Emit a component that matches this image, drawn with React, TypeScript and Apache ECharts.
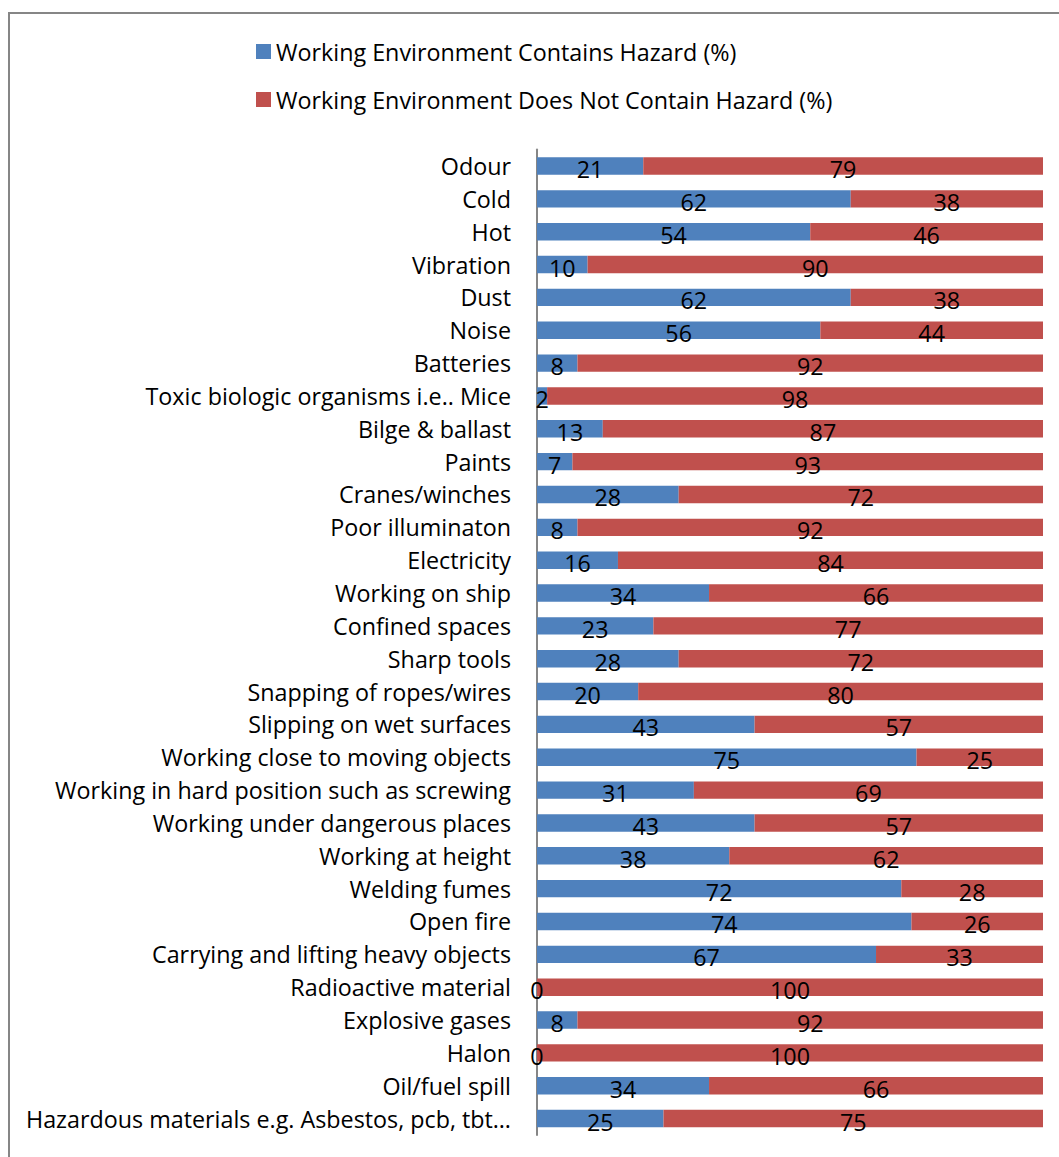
import React, { useEffect, useRef } from "react";
import * as echarts from "echarts";

const categories = [
  "Odour",
  "Cold",
  "Hot",
  "Vibration",
  "Dust",
  "Noise",
  "Batteries",
  "Toxic biologic organisms i.e.. Mice",
  "Bilge & ballast",
  "Paints",
  "Cranes/winches",
  "Poor illuminaton",
  "Electricity",
  "Working on ship",
  "Confined spaces",
  "Sharp tools",
  "Snapping of ropes/wires",
  "Slipping on wet surfaces",
  "Working close to moving objects",
  "Working in hard position such as screwing",
  "Working under dangerous places",
  "Working at height",
  "Welding fumes",
  "Open fire",
  "Carrying and lifting heavy objects",
  "Radioactive material",
  "Explosive gases",
  "Halon",
  "Oil/fuel spill",
  "Hazardous materials e.g. Asbestos, pcb, tbt…",
];

const containsHazard = [
  21, 62, 54, 10, 62, 56, 8, 2, 13, 7, 28, 8, 16, 34, 23, 28, 20, 43, 75, 31, 43, 38, 72, 74, 67, 0, 8, 0, 34, 25,
];

const noHazard = [
  79, 38, 46, 90, 38, 44, 92, 98, 87, 93, 72, 92, 84, 66, 77, 72, 80, 57, 25, 69, 57, 62, 28, 26, 33, 100, 92, 100, 66, 75,
];

const seriesNames = [
  "Working Environment Contains Hazard (%)",
  "Working Environment Does Not Contain Hazard (%)",
];

const FONT = "Open Sans";
const FS = 23.3;

export default function App() {
  const ref = useRef<HTMLDivElement>(null);
  useEffect(() => {
    if (!ref.current) return;
    const chart = echarts.init(ref.current, undefined, { renderer: "svg" });
    const labelCfg = {
      show: true,
      position: "inside",
      color: "#000",
      fontSize: FS,
      fontFamily: FONT,
      offset: [0, 3],
    };
    chart.setOption({
      animation: false,
      backgroundColor: "#fff",
      graphic: [
        {
          type: "rect",
          shape: { x: 9, y: 13, width: 1100, height: 1200 },
          style: { fill: "none", stroke: "#868686", lineWidth: 2 },
          silent: true,
        },
      ],
      legend: {
        orient: "vertical",
        left: 256,
        top: 40,
        padding: 0,
        itemWidth: 15,
        itemHeight: 15,
        itemGap: 25,
        icon: "rect",
        textStyle: { fontSize: FS, fontFamily: FONT, color: "#000" },
        data: seriesNames,
      },
      grid: { left: 537, right: 16, top: 149.6, bottom: 22, containLabel: false },
      xAxis: { type: "value", min: 0, max: 100, show: false },
      yAxis: {
        type: "category",
        inverse: true,
        data: categories,
        axisLine: { show: true, lineStyle: { color: "#868686", width: 2 } },
        axisTick: { show: false },
        axisLabel: { color: "#000", fontSize: FS, fontFamily: FONT, margin: 26 },
      },
      series: [
        {
          name: seriesNames[0],
          type: "bar",
          stack: "total",
          data: containsHazard,
          itemStyle: { color: "#4F81BD" },
          barCategoryGap: "47%",
          label: labelCfg,
        },
        {
          name: seriesNames[1],
          type: "bar",
          stack: "total",
          data: noHazard,
          itemStyle: { color: "#C0504D" },
          label: labelCfg,
        },
      ],
    });
    return () => chart.dispose();
  }, []);
  return (
    <div
      ref={ref}
      style={{ position: "absolute", left: 0, top: 0, width: 1059, height: 1157 }}
    />
  );
}
